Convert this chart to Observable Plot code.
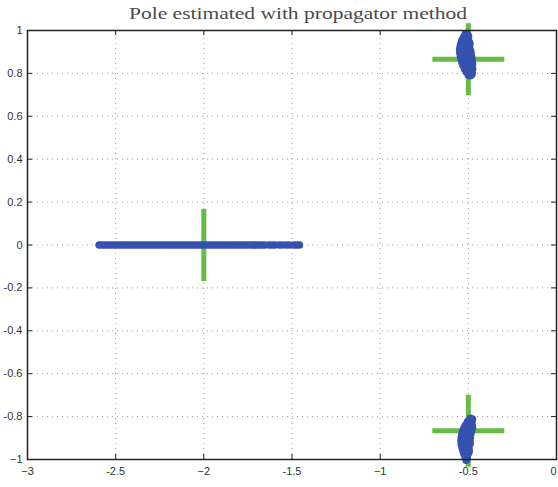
<!DOCTYPE html>
<html>
<head>
<meta charset="utf-8">
<script src="https://cdn.jsdelivr.net/npm/d3@7"></script>
<script src="https://cdn.jsdelivr.net/npm/@observablehq/plot@0.6"></script>
<style>
  html, body { margin: 0; padding: 0; background: #fff; }
</style>
</head>
<body>
<div id="chart"></div>
<script>
// True poles of the system (marked with crosses)
const truePoles = [
  { re: -0.5, im: 0.866 },
  { re: -0.5, im: -0.866 },
  { re: -2.0, im: 0 }
];

// Estimated poles: upper complex cluster
const upperEstimates = [
  [-0.516, 0.986], [-0.504, 0.982],
  [-0.526, 0.971], [-0.511, 0.968], [-0.499, 0.973],
  [-0.536, 0.956], [-0.523, 0.953], [-0.509, 0.958], [-0.497, 0.951],
  [-0.541, 0.941], [-0.528, 0.938], [-0.514, 0.943], [-0.502, 0.936], [-0.491, 0.940],
  [-0.546, 0.926], [-0.533, 0.923], [-0.519, 0.928], [-0.505, 0.921], [-0.493, 0.925],
  [-0.549, 0.911], [-0.536, 0.908], [-0.522, 0.913], [-0.509, 0.906], [-0.496, 0.910], [-0.487, 0.905],
  [-0.548, 0.896], [-0.535, 0.893], [-0.521, 0.898], [-0.508, 0.891], [-0.495, 0.895], [-0.484, 0.890],
  [-0.545, 0.881], [-0.532, 0.878], [-0.518, 0.883], [-0.505, 0.876], [-0.492, 0.880], [-0.481, 0.875],
  [-0.541, 0.866], [-0.528, 0.863], [-0.515, 0.868], [-0.502, 0.861], [-0.489, 0.865], [-0.479, 0.860],
  [-0.536, 0.851], [-0.523, 0.848], [-0.510, 0.853], [-0.497, 0.846], [-0.485, 0.850], [-0.476, 0.845],
  [-0.529, 0.836], [-0.516, 0.833], [-0.503, 0.838], [-0.490, 0.831], [-0.479, 0.835],
  [-0.521, 0.821], [-0.508, 0.818], [-0.495, 0.823], [-0.484, 0.816], [-0.476, 0.820],
  [-0.511, 0.806], [-0.499, 0.803], [-0.487, 0.808], [-0.478, 0.801],
  [-0.500, 0.792], [-0.489, 0.789], [-0.481, 0.794]
];

// Estimated poles: lower complex cluster
const lowerEstimates = [
  [-0.489, -0.808], [-0.477, -0.812],
  [-0.504, -0.823], [-0.491, -0.827], [-0.479, -0.822],
  [-0.515, -0.838], [-0.502, -0.842], [-0.490, -0.837], [-0.478, -0.841],
  [-0.525, -0.853], [-0.512, -0.857], [-0.499, -0.852], [-0.487, -0.856], [-0.477, -0.851],
  [-0.532, -0.868], [-0.519, -0.872], [-0.506, -0.867], [-0.493, -0.871], [-0.481, -0.866],
  [-0.537, -0.883], [-0.524, -0.887], [-0.511, -0.882], [-0.498, -0.886], [-0.486, -0.881],
  [-0.540, -0.898], [-0.527, -0.902], [-0.514, -0.897], [-0.501, -0.901], [-0.489, -0.896],
  [-0.542, -0.913], [-0.529, -0.917], [-0.516, -0.912], [-0.503, -0.916], [-0.491, -0.911],
  [-0.540, -0.928], [-0.527, -0.932], [-0.514, -0.927], [-0.501, -0.931], [-0.490, -0.926],
  [-0.536, -0.943], [-0.523, -0.947], [-0.510, -0.942], [-0.497, -0.946],
  [-0.531, -0.958], [-0.518, -0.962], [-0.505, -0.957], [-0.495, -0.961],
  [-0.525, -0.973], [-0.512, -0.977], [-0.500, -0.972],
  [-0.518, -0.988], [-0.506, -0.992],
  [-0.512, -1.003]
];

// Estimated poles: real axis
const realEstimates = [
  -2.594, -2.578, -2.563, -2.546, -2.531, -2.514, -2.499, -2.482, -2.467, -2.451,
  -2.435, -2.419, -2.402, -2.387, -2.371, -2.354, -2.339, -2.322, -2.307, -2.291,
  -2.275, -2.258, -2.243, -2.227, -2.210, -2.195, -2.179, -2.162, -2.147, -2.131,
  -2.114, -2.099, -2.083, -2.066, -2.051, -2.035, -2.018, -2.003, -1.987, -1.970,
  -1.955, -1.939, -1.922, -1.907, -1.891, -1.874, -1.859, -1.843, -1.826, -1.811,
  -1.795, -1.778, -1.763, -1.747, -1.730, -1.715, -1.700, -1.684, -1.668, -1.652,
  -1.628, -1.612, -1.596, -1.572, -1.555, -1.532, -1.515, -1.490, -1.474, -1.458
];

const xTicks = [-3, -2.5, -2, -1.5, -1, -0.5, 0];
const yTicks = [-1, -0.8, -0.6, -0.4, -0.2, 0, 0.2, 0.4, 0.6, 0.8, 1];

const titleText = "Pole estimated with propagator method";

const estimates = [
  ...realEstimates.map(re => ({ re, im: 0 })),
  ...upperEstimates.map(([re, im]) => ({ re, im })),
  ...lowerEstimates.map(([re, im]) => ({ re, im }))
];

// Stroked "+" marker; size is r²·π so the half-arm equals r
const plusSymbol = {
  draw(context, size) {
    const h = Math.sqrt(size / Math.PI);
    context.moveTo(-h, 0);
    context.lineTo(h, 0);
    context.moveTo(0, -h);
    context.lineTo(0, h);
  }
};

// Integer labels use a true minus sign, decimals a hyphen
const fmt = d => Number.isInteger(d) ? (d < 0 ? "\u2212" + Math.abs(d) : String(d)) : String(d);

const tickLenX = 5 / 176.3;
const tickLenY = 5 / 214.5;

const chart = Plot.plot({
  width: 558,
  height: 487,
  marginLeft: 27,
  marginRight: 2,
  marginTop: 30,
  marginBottom: 28,
  style: { fontFamily: "'Liberation Sans', Arial, sans-serif", fontSize: "11px", color: "#333", background: "#fff" },
  x: { domain: [-3, 0], label: null },
  y: { domain: [-1, 1], label: null },
  marks: [
    // dotted grid
    Plot.ruleX(xTicks.slice(1, -1), { y1: -1, y2: 1, stroke: "#999", strokeDasharray: "1,4", strokeWidth: 1 }),
    Plot.ruleY(yTicks.slice(1, -1), { x1: -3, x2: 0, stroke: "#999", strokeDasharray: "1,4", strokeWidth: 1 }),
    // inward ticks on all four sides
    Plot.ruleX(xTicks, { y1: -1, y2: -1 + tickLenY, stroke: "#222" }),
    Plot.ruleX(xTicks, { y1: 1, y2: 1 - tickLenY, stroke: "#222" }),
    Plot.ruleY(yTicks, { x1: -3, x2: -3 + tickLenX, stroke: "#222" }),
    Plot.ruleY(yTicks, { x1: 0, x2: -tickLenX, stroke: "#222" }),
    // true poles
    Plot.dot(truePoles, {
      x: "re", y: "im", r: 36, symbol: plusSymbol,
      fill: "none", stroke: "#66bb44", strokeWidth: 5, strokeLinecap: "butt"
    }),
    // estimated poles
    Plot.dot(estimates, { x: "re", y: "im", r: 3.8, fill: "#3652b0", stroke: "none" }),
    Plot.frame({ stroke: "#222", strokeWidth: 1.5 }),
    // x labels; the last one is nudged in so it stays on the page
    Plot.axisX({ ticks: xTicks.slice(0, -1), tickFormat: fmt, tickSize: 0, tickPadding: 8, fill: "#333", label: null }),
    Plot.axisX({ ticks: xTicks.slice(-1), tickFormat: fmt, tickSize: 0, tickPadding: 8, fill: "#333", label: null, dx: -3 }),
    Plot.axisY({ ticks: yTicks, tickFormat: fmt, tickSize: 0, tickPadding: 5, fill: "#333", label: null }),
    Plot.text([titleText], {
      frameAnchor: "top", dx: 6, dy: -17, text: d => d,
      fontFamily: "'Liberation Serif', 'DejaVu Serif', serif", fontSize: 16,
      fill: "#4a4a4a", lineAnchor: "middle", className: "chart-title"
    })
  ]
});

// Widen the serif title to the span of a Computer Modern setting
const title = chart.querySelector(".chart-title text");
if (title) {
  title.setAttribute("textLength", "338");
  title.setAttribute("lengthAdjust", "spacingAndGlyphs");
}

document.getElementById("chart").appendChild(chart);
</script>
</body>
</html>
